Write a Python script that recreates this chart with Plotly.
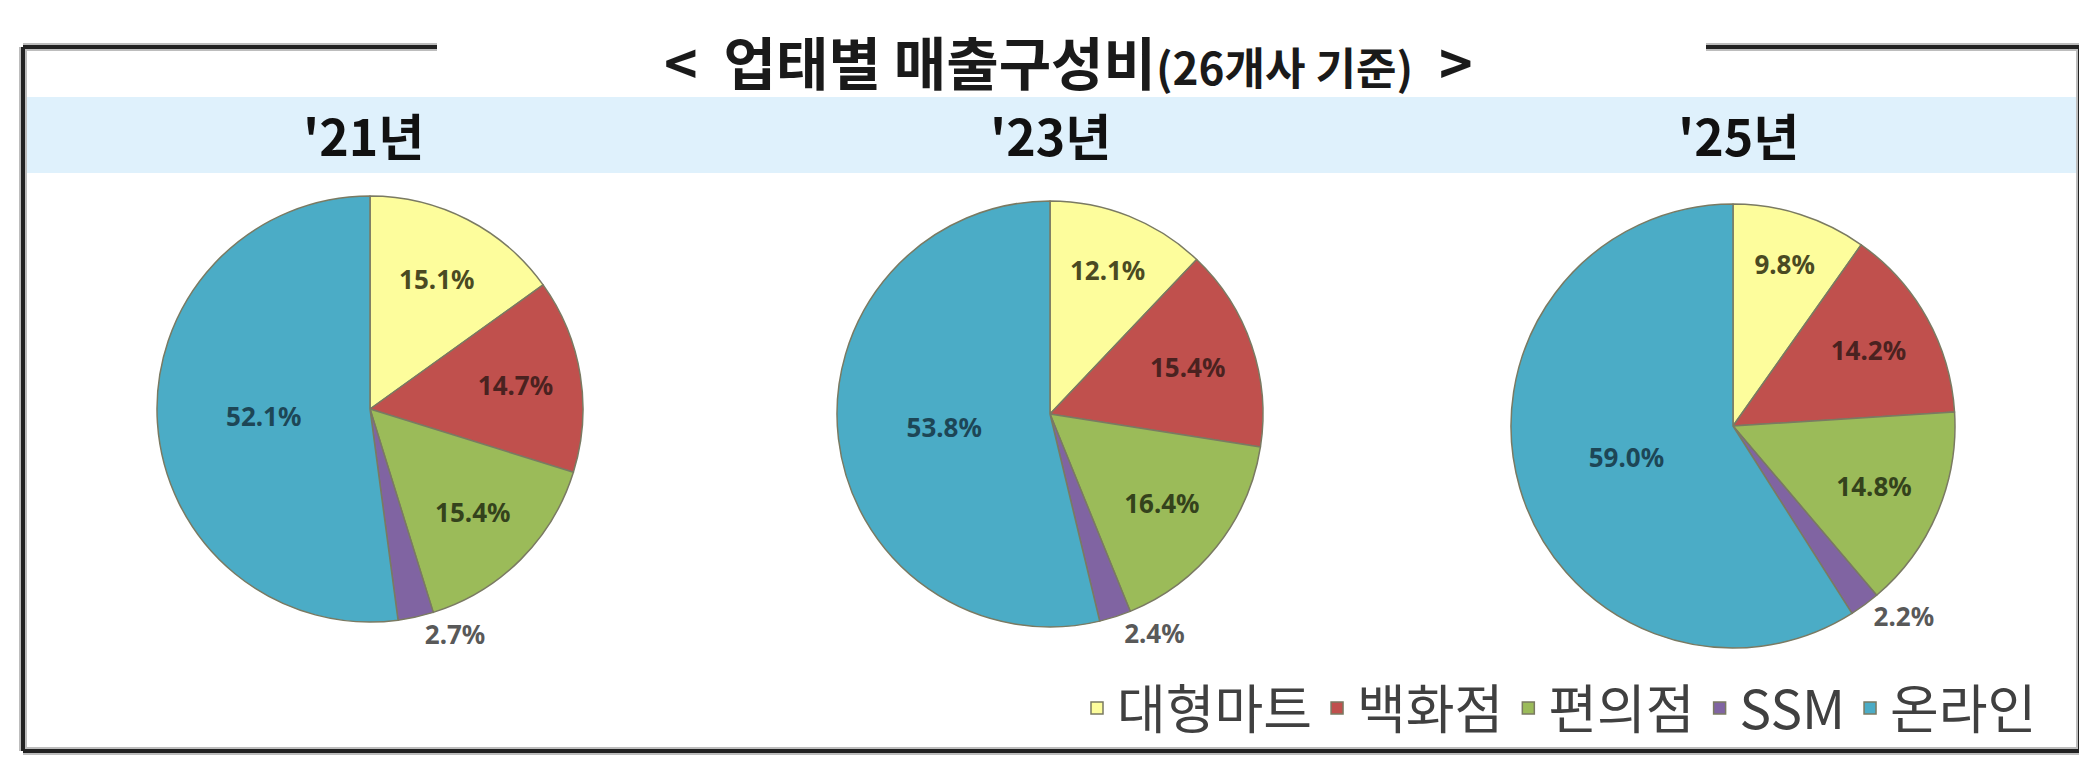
import plotly.graph_objects as go

# page body has an 8px margin; figure is sized so it fits the window
OFF = 8
W, H = 2087 - OFF, 774 - OFF


def px(x):
    return (x - OFF) / W


def py(y):
    return 1 - (y - OFF) / H


categories = ["대형마트", "백화점", "편의점", "SSM", "온라인"]
years = ["'21년", "'23년", "'25년"]
share_2021 = [15.1, 14.7, 15.4, 2.7, 52.1]
share_2023 = [12.1, 15.4, 16.4, 2.4, 53.8]
share_2025 = [9.8, 14.2, 14.8, 2.2, 59.0]
series = [share_2021, share_2023, share_2025]

slice_colors = ["#fdfd9c", "#c0504d", "#9bbb59", "#8064a2", "#4bacc6"]
text_colors = ["#4a4a22", "#4a2220", "#34421c", "#595959", "#1d4656"]
text_positions = ["inside", "inside", "inside", "outside", "inside"]

# pie placement (pixels in the window): center x, center y (from top), radius
pie_geom = [(370, 409, 213), (1050, 414, 213), (1733, 426, 222)]
year_x = [363, 1050, 1738]

fig = go.Figure()
for i, (vals, (cx, cy, r)) in enumerate(zip(series, pie_geom)):
    fig.add_trace(go.Pie(
        labels=categories,
        values=vals,
        sort=False,
        direction="clockwise",
        rotation=0,
        marker=dict(colors=slice_colors, line=dict(color="#7a7a62", width=1.5)),
        texttemplate="<b>%{value:.1f}%</b>",
        textposition=text_positions,
        insidetextorientation="horizontal",
        textfont=dict(family="Noto Sans, Open Sans, sans-serif", size=26, color=text_colors),
        hoverinfo="label+value",
        domain=dict(x=[px(cx - r), px(cx + r)], y=[py(cy + r), py(cy - r)]),
        showlegend=(i == 0),
    ))

frame_color = "#222222"
shadow = "#bdbdbd"
shapes = []
# light-blue band behind year headings
shapes.append(dict(type="rect", xref="paper", yref="paper",
                   x0=px(26), x1=px(2077), y0=py(173), y1=py(97),
                   fillcolor="#dff1fc", line=dict(width=0), layer="below"))
segments = [
    (23, 47, 437, 47), (1706, 47, 2080, 47),
    (23, 47, 23, 751), (2080, 47, 2080, 751),
    (23, 751, 2080, 751),
]
for (x0, y0, x1, y1) in segments:
    shapes.append(dict(type="line", xref="paper", yref="paper",
                       x0=px(x0), x1=px(x1), y0=py(y0), y1=py(y1),
                       line=dict(color=shadow, width=8), layer="above"))
for (x0, y0, x1, y1) in segments:
    shapes.append(dict(type="line", xref="paper", yref="paper",
                       x0=px(x0), x1=px(x1), y0=py(y0), y1=py(y1),
                       line=dict(color=frame_color, width=4), layer="above"))

annotations = [dict(
    x=px(1068), y=py(60), xref="paper", yref="paper",
    xanchor="center", yanchor="middle", showarrow=False,
    text="<b>&lt;  업태별 매출구성비<span style='font-size:44px'>(26개사 기준)</span>  &gt;</b>",
    font=dict(family="Noto Sans CJK KR", size=57, color="#1a1a1a"),
)]
for yr, xc in zip(years, year_x):
    annotations.append(dict(
        x=px(xc), y=py(134), xref="paper", yref="paper",
        xanchor="center", yanchor="middle", showarrow=False,
        text="<b>" + yr + "</b>",
        font=dict(family="Noto Sans CJK KR", size=50, color="#111111"),
    ))

fig.update_layout(
    width=W, height=H,
    margin=dict(l=0, r=0, t=0, b=0),
    paper_bgcolor="white", plot_bgcolor="white",
    shapes=shapes, annotations=annotations,
    legend=dict(orientation="h", x=px(2042), xanchor="right",
                y=py(708), yanchor="middle",
                font=dict(family="Noto Sans CJK KR", size=53, color="#404040"),
                bgcolor="rgba(0,0,0,0)", itemwidth=30, tracegroupgap=0),
)

fig.write_html("out.html")
